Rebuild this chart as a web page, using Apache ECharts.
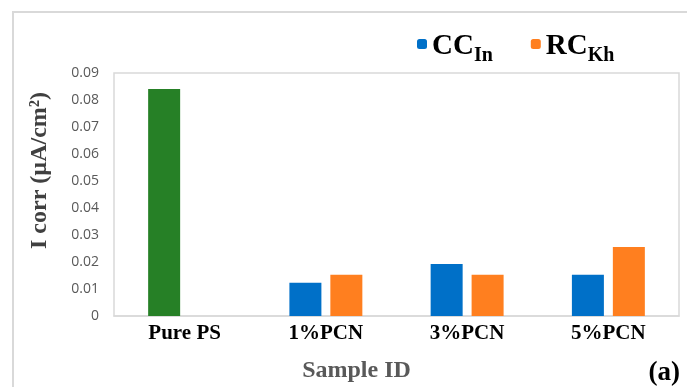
<!DOCTYPE html>
<html>
<head>
<meta charset="utf-8">
<script src="https://cdn.jsdelivr.net/npm/echarts@6/dist/echarts.min.js"></script>
<style>
  html, body { margin: 0; padding: 0; background: #ffffff; }
  #chart { width: 687px; height: 387px; }
</style>
</head>
<body>
<div id="chart"></div>
<script>
// Corrosion current density per sample
const categories = ['Pure PS', '1%PCN', '3%PCN', '5%PCN'];
const ccIn = [0.0841, 0.0123, 0.0193, 0.0153];   // first value is the bare Pure PS sample
const rcKh = [null, 0.0153, 0.0153, 0.0256];
const yTicks = [0, 0.01, 0.02, 0.03, 0.04, 0.05, 0.06, 0.07, 0.08, 0.09];

const SERIF = '"Liberation Serif", "DejaVu Serif", serif';
const SANS = '"Open Sans", "Liberation Sans", sans-serif';
const BLUE = '#0070c8';
const ORANGE = '#ff7f1f';
const GREEN = '#268026';

const chart = echarts.init(document.getElementById('chart'), null, { renderer: 'canvas' });

const legendRich = {
  main: { fontFamily: SERIF, fontWeight: 'bold', fontSize: 29, color: '#000', lineHeight: 34, verticalAlign: 'bottom' },
  sub: { fontFamily: SERIF, fontWeight: 'bold', fontSize: 20, color: '#000', lineHeight: 20, verticalAlign: 'bottom', padding: [0, 0, -5, 0] }
};

chart.setOption({
  animation: false,
  backgroundColor: '#ffffff',
  graphic: [{
    type: 'rect',
    shape: { x: 13, y: 12, width: 700, height: 400 },
    style: { fill: 'none', stroke: '#d9d9d9', lineWidth: 2 },
    silent: true
  }],
  title: {
    text: '(a)',
    right: 2,
    bottom: -5,
    textStyle: { fontFamily: SERIF, fontWeight: 'bold', fontSize: 27, color: '#000' }
  },
  legend: {
    top: 27,
    left: 412,
    itemWidth: 10,
    itemHeight: 10,
    itemGap: 38,
    data: ['CC', 'RC'],
    formatter: function (name) {
      return name === 'CC' ? '{main|CC}{sub|In}' : '{main|RC}{sub|Kh}';
    },
    textStyle: { rich: legendRich }
  },
  grid: {
    left: 114,
    right: 8,
    top: 73,
    bottom: 71,
    outerBoundsMode: 'none',
    show: true,
    borderColor: '#d9d9d9',
    borderWidth: 1.5
  },
  xAxis: {
    type: 'category',
    data: categories,
    axisTick: { show: false },
    axisLine: { lineStyle: { color: '#d9d9d9', width: 1.5 } },
    axisLabel: {
      fontFamily: SERIF, fontWeight: 'bold', fontSize: 21, color: '#000', margin: 7
    },
    name: 'Sample ID',
    nameLocation: 'middle',
    nameGap: 43,
    nameMoveOverlap: false,
    nameTextStyle: {
      fontFamily: SERIF, fontWeight: 'bold', fontSize: 24, color: '#595959',
      padding: [0, 80, 0, 0]
    }
  },
  yAxis: {
    type: 'value',
    min: yTicks[0],
    max: yTicks[yTicks.length - 1],
    interval: 0.01,
    splitLine: { show: false },
    axisLine: { show: false },
    axisTick: { show: false },
    axisLabel: {
      fontFamily: SANS, fontSize: 14, color: '#595959', margin: 15,
      formatter: function (v) { return v === 0 ? '0' : v.toFixed(2); }
    },
    name: 'I corr (µA/cm²)',
    nameLocation: 'middle',
    nameRotate: 90,
    nameGap: 62,
    nameMoveOverlap: false,
    nameTextStyle: {
      fontFamily: SERIF, fontWeight: 'bold', fontSize: 24, color: '#404040',
      padding: [0, 0, 0, 48]
    }
  },
  series: [
    {
      name: 'CC',
      type: 'bar',
      barWidth: 32,
      barGap: '28%',
      itemStyle: { color: BLUE },
      data: ccIn.map(function (v, i) {
        return i === 0 ? { value: v, itemStyle: { color: GREEN } } : v;
      })
    },
    {
      name: 'RC',
      type: 'bar',
      barWidth: 32,
      itemStyle: { color: ORANGE },
      data: rcKh
    }
  ]
});
</script>
</body>
</html>
